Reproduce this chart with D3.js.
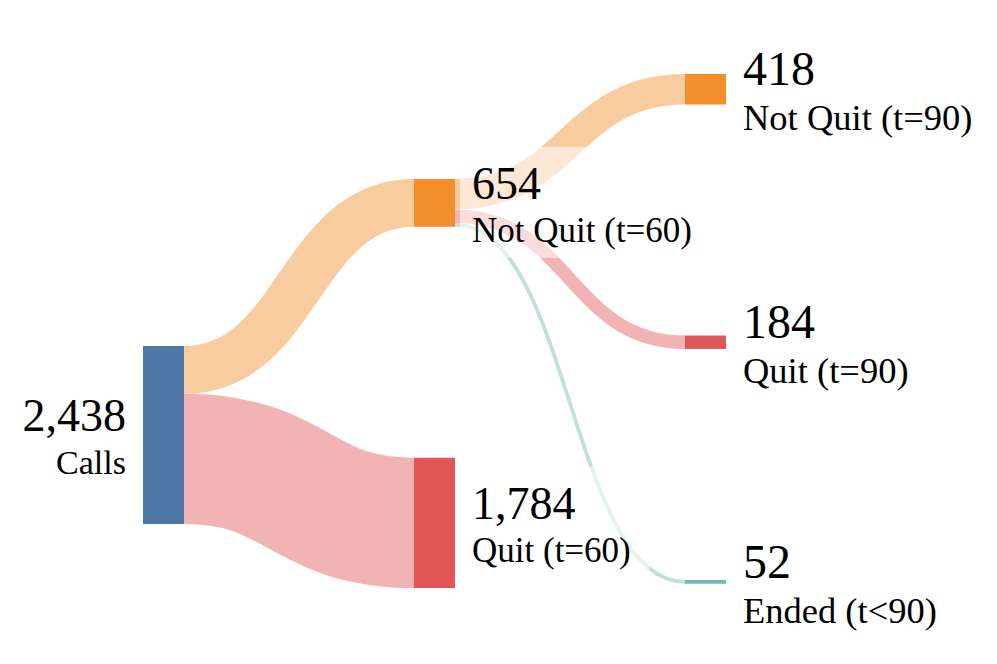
<!DOCTYPE html>
<html>
<head>
<meta charset="utf-8">
<script src="https://cdn.jsdelivr.net/npm/d3@7"></script>
<style>
body{margin:0;background:#fff;}
</style>
</head>
<body>
<script>
// data
var nodeNames = ["Calls","Not Quit (t=60)","Quit (t=60)","Not Quit (t=90)","Quit (t=90)","Ended (t<90)"];
var nodeColumn = [0,1,1,2,2,2];
var nodeColors = ["#4e79a7","#f28e2b","#e15759","#f28e2b","#e15759","#76b7b2"];
var linkSource = [0,0,1,1,1];
var linkTarget = [1,2,3,4,5];
var linkValues = [654,1784,418,184,52];

// layout
var width = 997, height = 664;
var nodeWidth = 41, nodePadding = 231;
var columnTop = [346,179,74];
var numSize = [46,46,48], nameSize = [34,35,36.5];
var serif = "'Liberation Serif', 'Times New Roman', Times, serif";

var svg = d3.select("body").append("svg").attr("width",width).attr("height",height);

var x = d3.scaleLinear().domain([0,2]).range([143,685]);
var total = d3.sum(linkValues.filter(function(v,i){ return linkSource[i]===0; }));
var h = d3.scaleLinear().domain([0,total]).range([0,178]);

var nodes = nodeNames.map(function(name,i){
  var vin = d3.sum(linkValues.filter(function(v,j){ return linkTarget[j]===i; }));
  var vout = d3.sum(linkValues.filter(function(v,j){ return linkSource[j]===i; }));
  return {name:name, index:i, col:nodeColumn[i], value:Math.max(vin,vout), color:nodeColors[i]};
});
var links = linkValues.map(function(v,i){
  return {source:nodes[linkSource[i]], target:nodes[linkTarget[i]], value:v};
});

// stack nodes in each column
[0,1,2].forEach(function(c){
  var y = columnTop[c];
  nodes.filter(function(n){ return n.col===c; }).forEach(function(n){
    n.x0 = x(c); n.x1 = x(c)+nodeWidth;
    n.y0 = y; n.y1 = y + h(n.value);
    y = n.y1 + nodePadding;
  });
});
// link offsets at source and target
nodes.forEach(function(n){
  var sy = n.y0, ty = n.y0;
  links.filter(function(l){ return l.source===n; }).forEach(function(l){ l.sy = sy + h(l.value)/2; sy += h(l.value); });
  links.filter(function(l){ return l.target===n; }).forEach(function(l){ l.ty = ty + h(l.value)/2; ty += h(l.value); });
});

var linkPath = d3.linkHorizontal()
      .source(function(l){ return [l.source.x1, l.sy]; })
      .target(function(l){ return [l.target.x0, l.ty]; });

svg.append("g").selectAll("path")
      .data(links)
      .enter().append("path")
            .attr("d",linkPath)
            .attr("fill","none")
            .attr("stroke",function(l){ return l.target.color; })
            .attr("stroke-opacity",0.45)
            .attr("stroke-width",function(l){ return h(l.value); });

svg.append("g").selectAll("rect")
      .data(nodes)
      .enter().append("rect")
            .attr("x",function(n){ return n.x0; })
            .attr("y",function(n){ return n.y0; })
            .attr("width",nodeWidth)
            .attr("height",function(n){ return n.y1-n.y0; })
            .attr("fill",function(n){ return n.color; });

var boxes = svg.append("g");
var fmt = d3.format(",");

var labels = svg.append("g").selectAll("g")
      .data(nodes)
      .enter().append("g")
            .attr("font-family",serif)
            .attr("fill","#000");

labels.append("text")
      .attr("class","num")
      .text(function(n){ return fmt(n.value); })
      .attr("x",function(n){ return n.col===0 ? n.x0-17 : n.x1+17; })
      .attr("y",function(n){ return (n.y0+n.y1)/2-4; })
      .attr("text-anchor",function(n){ return n.col===0 ? "end" : "start"; })
      .attr("font-size",function(n){ return numSize[n.col]+"px"; });

labels.append("text")
      .text(function(n){ return n.name; })
      .attr("x",function(n){ return n.col===0 ? n.x0-17 : n.x1+17; })
      .attr("y",function(n){ return (n.y0+n.y1)/2+(n.col===2 ? 41 : 39); })
      .attr("text-anchor",function(n){ return n.col===0 ? "end" : "start"; })
      .attr("font-size",function(n){ return nameSize[n.col]+"px"; });

// faded box behind labels
labels.select("text.num").each(function(n){
  var bw = this.getComputedTextLength()*1.83;
  var cy = (n.y0+n.y1)/2;
  boxes.append("rect")
        .attr("x", n.col===0 ? n.x0-5-bw : n.x1+5)
        .attr("y", cy-56)
        .attr("width", bw)
        .attr("height", 111)
        .attr("fill","#fff")
        .attr("fill-opacity",0.55);
});
</script>
</body>
</html>
